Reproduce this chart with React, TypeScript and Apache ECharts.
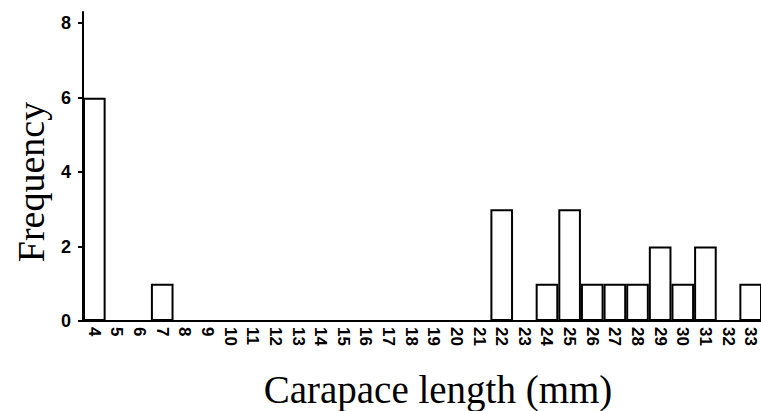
import React, { useEffect, useRef } from "react";
import * as echarts from "echarts";

const categories = ["4","5","6","7","8","9","10","11","12","13","14","15","16","17","18","19","20","21","22","23","24","25","26","27","28","29","30","31","32","33"];
const frequency = [6,0,0,1,0,0,0,0,0,0,0,0,0,0,0,0,0,0,3,0,1,3,1,1,1,2,1,2,0,1];
const yTicks = [0, 2, 4, 6, 8];
const xTitle = "Carapace length (mm)";
const yTitle = "Frequency";

export default function App() {
  const ref = useRef<HTMLDivElement>(null);
  useEffect(() => {
    const chart = echarts.init(ref.current!, null, { renderer: "svg" });
    chart.setOption({
      animation: false,
      backgroundColor: "#ffffff",
      grid: { left: 83, right: -1, top: 12, bottom: 90, containLabel: false, outerBoundsMode: "none" },
      graphic: [
        {
          type: "text",
          x: 438,
          y: 389,
          style: {
            text: xTitle,
            fontFamily: "Liberation Serif",
            fontSize: 39,
            fill: "#000",
            align: "center",
            verticalAlign: "middle",
          },
        },
        {
          type: "text",
          x: 31,
          y: 182,
          rotation: Math.PI / 2,
          style: {
            text: yTitle,
            fontFamily: "Liberation Serif",
            fontSize: 38,
            fill: "#000",
            align: "center",
            verticalAlign: "middle",
          },
        },
      ],
      xAxis: {
        type: "category",
        data: categories,
        axisLine: { lineStyle: { color: "#000", width: 2 } },
        axisTick: { show: false },
        axisLabel: {
          rotate: -90,
          interval: 0,
          margin: 6,
          fontFamily: "Liberation Sans",
          fontWeight: "bold",
          fontSize: 17,
          color: "#000",
        },
      },
      yAxis: {
        type: "value",
        min: 0,
        max: 8.3,
        splitLine: { show: false },
        axisLine: { show: true, lineStyle: { color: "#000", width: 2 } },
        axisTick: { show: true, length: 5, lineStyle: { color: "#000", width: 2 }, customValues: yTicks },
        axisLabel: {
          customValues: yTicks,
          margin: 12,
          fontFamily: "Liberation Sans",
          fontWeight: "bold",
          fontSize: 18,
          color: "#000",
        },
      },
      series: [
        {
          type: "bar",
          data: frequency,
          barCategoryGap: "0%",
          itemStyle: { color: "#ffffff", borderColor: "#000", borderWidth: 2 },
        },
      ],
    });
    return () => chart.dispose();
  }, []);
  return <div ref={ref} style={{ width: 761, height: 411, position: "absolute", left: 0, top: 0 }} />;
}
